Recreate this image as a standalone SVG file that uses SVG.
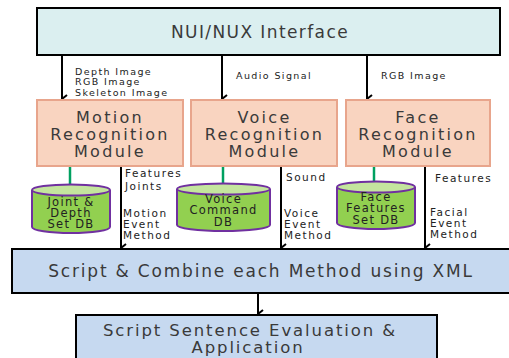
<svg xmlns="http://www.w3.org/2000/svg" width="509" height="358" viewBox="0 0 509 358">
  <defs>
    <marker id="arrow" viewBox="0 0 10 10" refX="5" refY="9" markerWidth="10" markerHeight="10" markerUnits="userSpaceOnUse" orient="auto-start-reverse">
      <path d="M1,4 L5,9 L9,4" fill="none" stroke="#000" stroke-width="2"/>
    </marker>
    <style>
      text { font-family: "DejaVu Sans", "Noto Sans", sans-serif; fill: #3a3a3a; }
      .big { font-size: 17px; letter-spacing: 1.4px; text-anchor: middle; }
      .mod { font-size: 16px; letter-spacing: 2.3px; text-anchor: middle; }
      .lbl { font-size: 9.5px; letter-spacing: 1.4px; fill: #222; }
      .lbl2 { font-size: 10.5px; letter-spacing: 1.5px; fill: #222; }
      .db { font-size: 11.5px; letter-spacing: 1.3px; text-anchor: middle; fill: #222; }
      .iface { fill: #dbeff0; stroke: #000; stroke-width: 2; }
      .module { fill: #f9d4c0; stroke: #e8a58c; stroke-width: 2; }
      .proc { fill: #c6d9f0; stroke: #000; stroke-width: 2; }
      .cyl { fill: #92d050; stroke: #7030a0; stroke-width: 2; }
      .cyltop { fill: #c4e59e; stroke: #7030a0; stroke-width: 2; }
      .link { stroke: #00a060; stroke-width: 2.5; }
      .flow { stroke: #000; stroke-width: 2; fill: none; marker-end: url(#arrow); }
    </style>
  </defs>
  <rect width="509" height="358" fill="#fff"/>

  <g id="connectors">
    <line class="flow" x1="62" y1="55" x2="62" y2="99"/>
    <line class="flow" x1="222" y1="55" x2="222" y2="99"/>
    <line class="flow" x1="367" y1="55" x2="367" y2="99"/>
    <line class="link" x1="70" y1="166" x2="70" y2="185"/>
    <line class="link" x1="223" y1="166" x2="223" y2="184"/>
    <line class="link" x1="374" y1="166" x2="374" y2="182"/>
    <line class="flow" x1="121" y1="166" x2="121" y2="248"/>
    <line class="flow" x1="281" y1="166" x2="281" y2="248"/>
    <line class="flow" x1="425" y1="166" x2="425" y2="248"/>
    <line class="flow" x1="258" y1="293" x2="258" y2="314"/>
    <text class="lbl" x="75" y="74.5">Depth Image</text>
    <text class="lbl" x="75" y="85">RGB Image</text>
    <text class="lbl" x="75" y="95.5">Skeleton Image</text>
    <text class="lbl" x="236" y="79">Audio Signal</text>
    <text class="lbl" x="381" y="79">RGB Image</text>
    <text class="lbl2" x="125" y="177">Features</text>
    <text class="lbl2" x="125" y="190">Joints</text>
    <text class="lbl2" x="123" y="217">Motion</text>
    <text class="lbl2" x="123" y="228">Event</text>
    <text class="lbl2" x="123" y="239">Method</text>
    <text class="lbl2" x="286" y="181">Sound</text>
    <text class="lbl2" x="284" y="217">Voice</text>
    <text class="lbl2" x="284" y="228">Event</text>
    <text class="lbl2" x="284" y="239">Method</text>
    <text class="lbl2" x="435" y="182">Features</text>
    <text class="lbl2" x="430" y="216">Facial</text>
    <text class="lbl2" x="430" y="227">Event</text>
    <text class="lbl2" x="430" y="238">Method</text>
  </g>

  <g id="nui-interface">
    <rect class="iface" x="37" y="8" width="463" height="47"/>
    <text class="big" x="260" y="38">NUI/NUX Interface</text>
  </g>

  <g id="motion-module">
    <rect class="module" x="37" y="100" width="146" height="66"/>
    <text class="mod" x="110" y="123">Motion</text>
    <text class="mod" x="110" y="140">Recognition</text>
    <text class="mod" x="110" y="157">Module</text>
  </g>
  <g id="voice-module">
    <rect class="module" x="191" y="100" width="146" height="66"/>
    <text class="mod" x="264.5" y="123">Voice</text>
    <text class="mod" x="264.5" y="140">Recognition</text>
    <text class="mod" x="264.5" y="157">Module</text>
  </g>
  <g id="face-module">
    <rect class="module" x="346" y="100" width="144" height="66"/>
    <text class="mod" x="418" y="123">Face</text>
    <text class="mod" x="418" y="140">Recognition</text>
    <text class="mod" x="418" y="157">Module</text>
  </g>

  <g id="joint-depth-db">
    <path class="cyl" d="M32,190 L32,227 A39,6 0 0 0 110,227 L110,190"/>
    <ellipse class="cyltop" cx="71" cy="190" rx="39" ry="5.5"/>
    <text class="db" x="71" y="206">Joint &amp;</text>
    <text class="db" x="71" y="217">Depth</text>
    <text class="db" x="71" y="228">Set DB</text>
  </g>
  <g id="voice-command-db">
    <path class="cyl" d="M177,189 L177,225 A46.5,6 0 0 0 270,225 L270,189"/>
    <ellipse class="cyltop" cx="223.5" cy="189" rx="46.5" ry="5.5"/>
    <text class="db" x="223.5" y="203">Voice</text>
    <text class="db" x="223.5" y="214">Command</text>
    <text class="db" x="223.5" y="226">DB</text>
  </g>
  <g id="face-features-db">
    <path class="cyl" d="M337,187 L337,223 A39,6 0 0 0 415,223 L415,187"/>
    <ellipse class="cyltop" cx="376" cy="187" rx="39" ry="5.5"/>
    <text class="db" x="376" y="201">Face</text>
    <text class="db" x="376" y="212">Features</text>
    <text class="db" x="376" y="224">Set DB</text>
  </g>

  <g id="script-combine">
    <rect class="proc" x="12" y="249" width="500" height="44"/>
    <text class="big" x="261" y="277" style="letter-spacing:1.8px">Script &amp; Combine each Method using XML</text>
  </g>
  <g id="evaluation">
    <rect class="proc" x="76" y="315" width="361" height="50"/>
    <text class="big" x="250" y="336" style="font-size:16.5px;letter-spacing:1.9px">Script Sentence Evaluation &amp;</text>
    <text class="big" x="248" y="353" style="font-size:16.5px;letter-spacing:1.9px">Application</text>
  </g>
</svg>
